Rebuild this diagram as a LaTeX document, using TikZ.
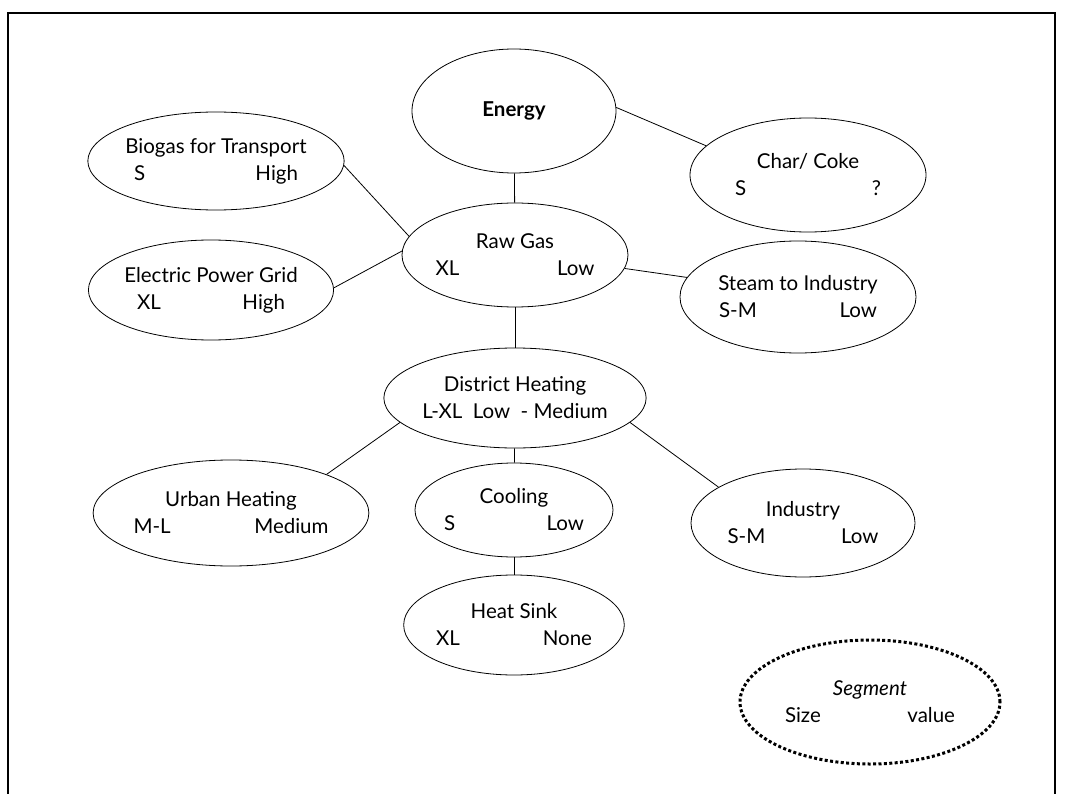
\documentclass[tikz,border=0pt]{standalone}
\usepackage{fontspec}
\setmainfont{Lato}
\usetikzlibrary{shapes.geometric}

% title on top, size and value spread below
\newcommand{\segtext}[4]{#1\\\makebox[#4]{#2\hfill#3}}

\begin{document}
\begin{tikzpicture}[x=1pt,y=-1pt,
every node/.style={font=\fontsize{20.5}{27}\selectfont}
]

  \tikzstyle{seg}=[ellipse,draw,line width=0.8pt,inner sep=0pt,align=center]
  \tikzstyle{link}=[line width=0.8pt]
  \tikzstyle{key}=[seg,line width=3pt,dash pattern=on 3pt off 2.4pt]

  \useasboundingbox (0,0) rectangle (1073,794);
  \draw [line width=1.3pt] (8,794) -- (8,13) -- (1055,13) -- (1055,794);

  \node (energy) [seg,minimum width=204,minimum height=124] at (514,111) {\textbf{Energy}};

  \node (biogas) [seg,minimum width=224,minimum height=98] at (216,161)
    {\segtext{Biogas for Transport}{S}{High}{164pt}};
  \node (char) [seg,minimum width=236,minimum height=114] at (808,175)
    {\segtext{Char/ Coke}{S}{?}{146pt}};

  \node (rawgas) [seg,minimum width=226,minimum height=104] at (515,255)
    {\segtext{Raw Gas}{XL}{Low}{159pt}};
  \node (electric) [seg,minimum width=236,minimum height=100] at (211,290)
    {\segtext{Electric Power Grid}{XL}{High}{148pt}};
  \node (steam) [seg,minimum width=236,minimum height=112] at (798,297)
    {\segtext{Steam to Industry}{S-M}{Low}{158pt}};

  \node (district) [seg,minimum width=226,minimum height=100] at (515,398)
    {District Heating\\L-XL\ \ Low\ \ - Medium};

  \node (urban) [seg,minimum width=236,minimum height=106] at (231,513)
    {\segtext{Urban Heating}{M-L}{Medium}{195pt}};
  \node (cooling) [seg,minimum width=176,minimum height=94] at (514,510)
    {\segtext{Cooling}{S}{Low}{140pt}};
  \node (industry) [seg,minimum width=224,minimum height=108] at (803,523)
    {\segtext{Industry}{S-M}{Low}{151pt}};

  \node (heatsink) [seg,minimum width=182,minimum height=100] at (514,625)
    {\segtext{Heat Sink}{XL}{None}{156pt}};

  \node (legend) [key,minimum width=260,minimum height=124] at (870,702)
    {\itshape\segtext{Segment}{Size}{value}{170pt}};

  \draw [link] (energy.2) -- (char.164);
  \draw [link] (energy) -- (rawgas);
  \draw [link] (biogas.358) -- (rawgas.170);
  \draw [link] (electric.1) -- (rawgas.178);
  \draw [link] (rawgas.353) -- (steam.170);
  \draw [link] (rawgas) -- (district);
  \draw [link] (district.192) -- (urban.22);
  \draw [link] (district.348) -- (industry.157);
  \draw [link] (district) -- (cooling);
  \draw [link] (cooling) -- (heatsink);

\end{tikzpicture}
\end{document}
